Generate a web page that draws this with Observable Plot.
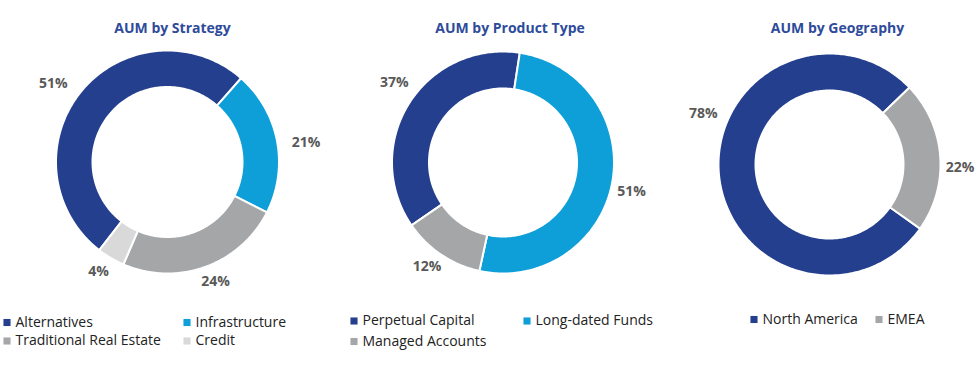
<!DOCTYPE html>
<html>
<head>
<meta charset="utf-8">
<script src="https://cdn.jsdelivr.net/npm/d3@7"></script>
<script src="https://cdn.jsdelivr.net/npm/@observablehq/plot@0.6"></script>
<style>
  html, body { margin: 0; padding: 0; background: #fff; }
  #chart svg { display: block; }
</style>
</head>
<body>
<div id="chart"></div>
<script>
// ---- Data ----
const strategyCats = ["Alternatives", "Infrastructure", "Traditional Real Estate", "Credit"];
const strategyVals = [51, 21, 24, 4];
const productCats = ["Perpetual Capital", "Long-dated Funds", "Managed Accounts"];
const productVals = [37, 51, 12];
const geoCats = ["North America", "EMEA"];
const geoVals = [78, 22];
const titles = ["AUM by Strategy", "AUM by Product Type", "AUM by Geography"];

const colorDomain = [...strategyCats, ...productCats, ...geoCats];
const colorRange = ["#243F8E", "#0E9ED8", "#A4A6A8", "#D9D9D9",
                    "#243F8E", "#0E9ED8", "#A4A6A8",
                    "#243F8E", "#A4A6A8"];

// ---- Layout ----
const layout = [
  {cats: strategyCats, vals: strategyVals, cx: 167, cy: 161.5, R: 111.5, r: 75, start: 217.7,
   titleX: 172, legendCols: [3, 183], legendRows: [322, 340.5], labelShift: [-5, 3, -2, 1.7], labelGap: [12, 14, 6, 7]},
  {cats: productCats, vals: productVals, cx: 502.5, cy: 162, R: 111, r: 74, start: 235.5,
   titleX: 509.5, legendCols: [350, 523], legendRows: [320.5, 341], labelShift: [4.3, 2.3, 2.3], labelGap: [9, 6, 4]},
  {cats: geoCats, vals: geoVals, cx: 829, cy: 164, R: 111, r: 74, start: 125.3,
   titleX: 837, legendCols: [750, 875], legendRows: [319], labelShift: [26.3, 5.6], labelGap: [10, 6]}
];

const rad = d => d * Math.PI / 180;
const arcPts = [], labels = [], legend = [], titleRows = [];

layout.forEach((c, ci) => {
  const total = d3.sum(c.vals);
  let a = c.start;
  titleRows.push({x: c.titleX, y: 28, text: titles[ci]});
  c.cats.forEach((cat, i) => {
    const span = c.vals[i] / total * 360;
    const a0 = a, a1 = a + span;
    const pts = [];
    const n = Math.max(2, Math.ceil(span));
    for (let k = 0; k <= n; k++) { const t = a0 + (a1 - a0) * k / n; pts.push([c.cx + c.R * Math.sin(rad(t)), c.cy - c.R * Math.cos(rad(t))]); }
    for (let k = n; k >= 0; k--) { const t = a0 + (a1 - a0) * k / n; pts.push([c.cx + c.r * Math.sin(rad(t)), c.cy - c.r * Math.cos(rad(t))]); }
    pts.push(pts[0]);
    pts.forEach(p => arcPts.push({x: p[0], y: p[1], cat}));
    // label, placed radially outside the slice
    const txt = c.vals[i] + "%";
    const w = txt.length * 9, h = 14;
    const m = a0 + span / 2 + c.labelShift[i];
    const s = Math.abs(Math.sin(rad(m))), co = Math.abs(Math.cos(rad(m)));
    const lr = c.R + c.labelGap[i] + (w / 2) * s + (h / 2) * co;
    labels.push({x: c.cx + lr * Math.sin(rad(m)), y: c.cy - lr * Math.cos(rad(m)), text: txt});
    // legend
    const col = i % c.legendCols.length, row = Math.floor(i / c.legendCols.length);
    legend.push({x: c.legendCols[col] + 3.5, y: c.legendRows[row], cat});
    a = a1;
  });
});

const plot = Plot.plot({
  width: 978,
  height: 370,
  margin: 0,
  x: {domain: [0, 978], range: [0, 978], axis: null},
  y: {domain: [0, 370], range: [0, 370], axis: null},
  color: {type: "ordinal", domain: colorDomain, range: colorRange},
  style: {fontFamily: "'Open Sans', sans-serif", background: "#fff"},
  marks: [
    Plot.line(arcPts, {x: "x", y: "y", z: "cat", fill: "cat", stroke: "#fff", strokeWidth: 2, curve: "linear"}),
    Plot.text(labels, {x: "x", y: "y", text: "text", fontSize: 14, fontWeight: "bold", fill: "#595959"}),
    Plot.text(titleRows, {x: "x", y: "y", text: "text", fontSize: 14, fontWeight: "bold", fill: "#2E4B9B"}),
    Plot.dot(legend, {x: "x", y: "y", fill: "cat", symbol: "square", r: 4}),
    Plot.text(legend, {x: d => d.x + 8.5, y: "y", text: "cat", textAnchor: "start", fontSize: 14, fill: "#222"})
  ]
});
document.getElementById("chart").appendChild(plot);
</script>
</body>
</html>
